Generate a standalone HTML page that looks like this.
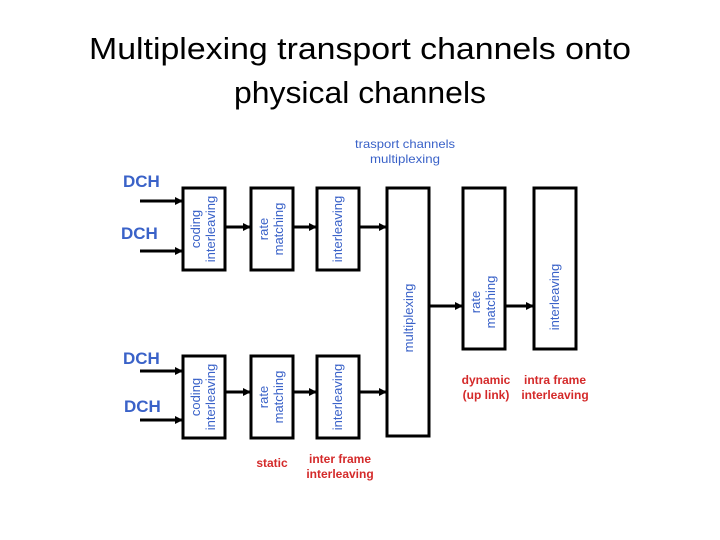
<!DOCTYPE html>
<html><head><meta charset="utf-8"><style>
html,body{margin:0;padding:0;background:#fff;}
svg{display:block;}
</style></head><body>
<svg width="720" height="540" viewBox="0 0 720 540" xmlns="http://www.w3.org/2000/svg" font-family="Liberation Sans, sans-serif">
<defs>
<marker id="a" markerWidth="8" markerHeight="8" refX="7" refY="4" orient="auto" markerUnits="userSpaceOnUse">
<path d="M0,0 L8,4 L0,8 z" fill="#000"/></marker>
</defs>
<text x="360" y="59" font-size="31" text-anchor="middle" textLength="542" lengthAdjust="spacingAndGlyphs" fill="#000">Multiplexing transport channels onto</text>
<text x="360" y="103" font-size="31" text-anchor="middle" textLength="252" lengthAdjust="spacingAndGlyphs" fill="#000">physical channels</text>
<g fill="#3a62c8" font-size="12" text-anchor="middle">
<text x="405" y="148" textLength="100" lengthAdjust="spacingAndGlyphs">trasport channels</text>
<text x="405" y="163" textLength="70" lengthAdjust="spacingAndGlyphs">multiplexing</text>
</g>
<g fill="#3a62c8" font-size="17" font-weight="bold">
<text x="123" y="187">DCH</text>
<text x="121" y="239">DCH</text>
<text x="123" y="364">DCH</text>
<text x="124" y="412">DCH</text>
</g>
<g fill="none" stroke="#000" stroke-width="3">
<rect x="183" y="188" width="42" height="82"/>
<rect x="251" y="188" width="42" height="82"/>
<rect x="317" y="188" width="42" height="82"/>
<rect x="387" y="188" width="42" height="248"/>
<rect x="183" y="356" width="42" height="82"/>
<rect x="251" y="356" width="42" height="82"/>
<rect x="317" y="356" width="42" height="82"/>
<rect x="463" y="188" width="42" height="161"/>
<rect x="534" y="188" width="42" height="161"/>
</g>
<g stroke="#000" stroke-width="3" marker-end="url(#a)">
<line x1="140" y1="201" x2="182" y2="201"/>
<line x1="140" y1="251" x2="182" y2="251"/>
<line x1="226" y1="227" x2="250" y2="227"/>
<line x1="293" y1="227" x2="316" y2="227"/>
<line x1="359" y1="227" x2="386" y2="227"/>
<line x1="140" y1="371" x2="182" y2="371"/>
<line x1="140" y1="420" x2="182" y2="420"/>
<line x1="226" y1="392" x2="250" y2="392"/>
<line x1="293" y1="392" x2="316" y2="392"/>
<line x1="359" y1="392" x2="386" y2="392"/>
<line x1="429" y1="306" x2="462" y2="306"/>
<line x1="505" y1="306" x2="533" y2="306"/>
</g>
<g fill="#3a62c8" font-size="13" text-anchor="middle">
<text transform="translate(204,229) rotate(-90)"><tspan x="0" y="-4">coding</tspan><tspan x="0" y="11">interleaving</tspan></text>
<text transform="translate(272,229) rotate(-90)"><tspan x="0" y="-4">rate</tspan><tspan x="0" y="11">matching</tspan></text>
<text transform="translate(338,229) rotate(-90)"><tspan x="0" y="4">interleaving</tspan></text>
<text transform="translate(204,397) rotate(-90)"><tspan x="0" y="-4">coding</tspan><tspan x="0" y="11">interleaving</tspan></text>
<text transform="translate(272,397) rotate(-90)"><tspan x="0" y="-4">rate</tspan><tspan x="0" y="11">matching</tspan></text>
<text transform="translate(338,397) rotate(-90)"><tspan x="0" y="4">interleaving</tspan></text>
<text transform="translate(408,318) rotate(-90)"><tspan x="0" y="5">multiplexing</tspan></text>
<text transform="translate(484,302) rotate(-90)"><tspan x="0" y="-4">rate</tspan><tspan x="0" y="11">matching</tspan></text>
<text transform="translate(555,297) rotate(-90)"><tspan x="0" y="4">interleaving</tspan></text>
</g>
<g fill="#d42a2a" font-size="12" font-weight="bold" text-anchor="middle">
<text x="272" y="467">static</text>
<text x="340" y="463">inter frame</text>
<text x="340" y="478">interleaving</text>
<text x="486" y="384">dynamic</text>
<text x="486" y="399">(up link)</text>
<text x="555" y="384">intra frame</text>
<text x="555" y="399">interleaving</text>
</g>
</svg>
</body></html>
